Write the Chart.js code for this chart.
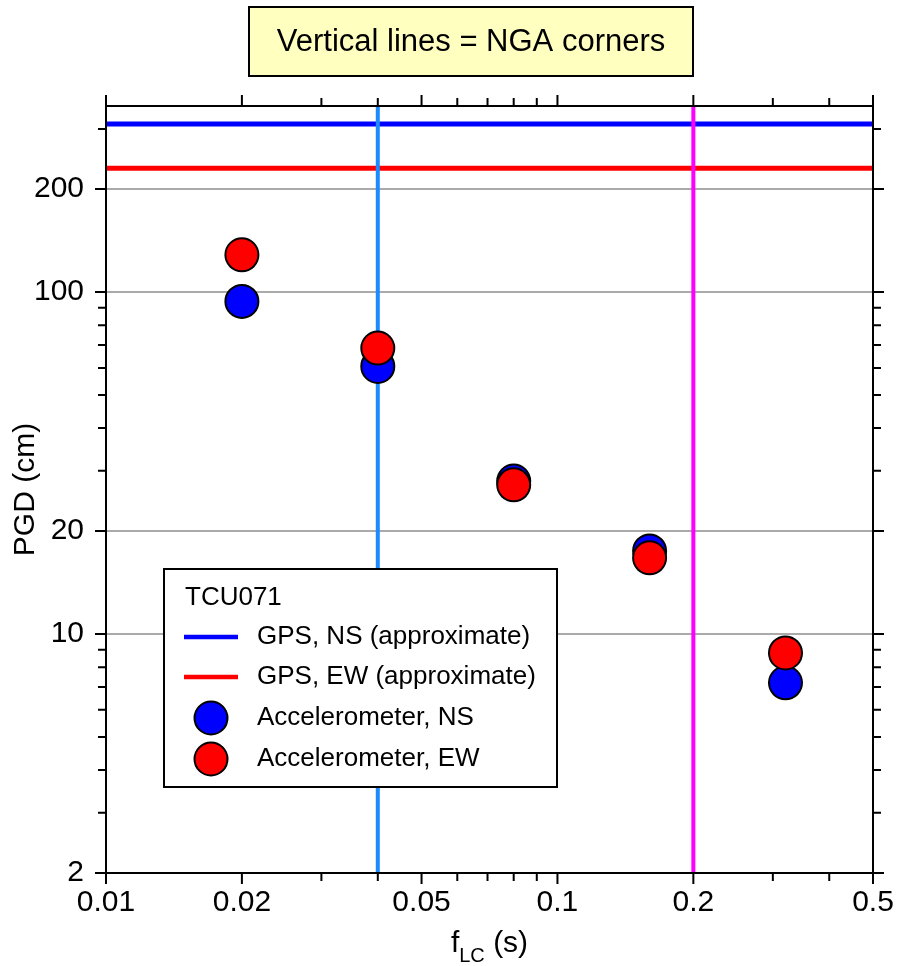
<!DOCTYPE html>
<html>
<head>
<meta charset="utf-8">
<title>TCU071 PGD vs fLC</title>
<script src="https://cdn.jsdelivr.net/npm/chart.js@4.4.1/dist/chart.umd.min.js"></script>
<style>
  html, body { margin: 0; padding: 0; background: #fff; }
  canvas { display: block; }
</style>
</head>
<body>
<canvas id="pgdChart" width="898" height="966"></canvas>
<script>
const FONT = '"Liberation Sans", Arial, Helvetica, sans-serif';

// station + measurements
const stationName = 'TCU071';
const periods = [0.02, 0.04, 0.08, 0.16, 0.32];
const pgdAccNS = [93.9, 60.6, 28.0, 17.5, 7.2];
const pgdAccEW = [128.5, 68.6, 27.3, 16.7, 8.8];
const gpsPgdNS = 310;
const gpsPgdEW = 230;
const ngaCorners = [0.04, 0.2];

// axes
const xLimits = [0.01, 0.5];
const yLimits = [2, 350];
const xMajorTicks = [0.01, 0.02, 0.05, 0.1, 0.2, 0.5];
const xMinorTicks = [0.03, 0.04, 0.06, 0.07, 0.08, 0.09, 0.3, 0.4];
const yMajorTicks = [2, 10, 20, 100, 200];
const yMinorTicks = [3, 4, 5, 6, 7, 8, 9, 30, 40, 50, 60, 70, 80, 90, 300];
const yGridLines = [10, 20, 100, 200];

function toPoints(xs, ys) {
  return xs.map((x, i) => ({ x: x, y: ys[i] }));
}
function hLine(y) {
  return [{ x: xLimits[0], y: y }, { x: xLimits[1], y: y }];
}
function vLine(x) {
  return [{ x: x, y: yLimits[0] }, { x: x, y: yLimits[1] }];
}

// frame, tick marks, legend box, titles
const decorPlugin = {
  id: 'pgdDecor',
  beforeDraw(chart) {
    const ctx = chart.ctx;
    ctx.save();
    ctx.fillStyle = '#fff';
    ctx.fillRect(0, 0, chart.width, chart.height);
    ctx.restore();
  },
  afterDatasetsDraw(chart) {
    const ctx = chart.ctx;
    const { left, right, top, bottom } = chart.chartArea;
    const xs = chart.scales.x, ys = chart.scales.y;
    ctx.save();
    ctx.strokeStyle = '#000';
    ctx.lineWidth = 2;
    ctx.beginPath();
    const xTick = (v, len) => {
      const px = xs.getPixelForValue(v);
      ctx.moveTo(px, bottom); ctx.lineTo(px, bottom + len);
      ctx.moveTo(px, top); ctx.lineTo(px, top - len);
    };
    const yTick = (v, len) => {
      const py = ys.getPixelForValue(v);
      ctx.moveTo(left, py); ctx.lineTo(left - len, py);
      ctx.moveTo(right, py); ctx.lineTo(right + len, py);
    };
    xMajorTicks.forEach(v => xTick(v, 11));
    xMinorTicks.forEach(v => xTick(v, 8));
    yMajorTicks.forEach(v => yTick(v, 11));
    yMinorTicks.forEach(v => yTick(v, 8));
    ctx.stroke();
    ctx.strokeRect(left, top, right - left, bottom - top);
    ctx.restore();
  },
  afterDraw(chart) {
    const ctx = chart.ctx;
    const area = chart.chartArea;
    ctx.save();

    // note box above the plot
    ctx.fillStyle = '#ffffc0';
    ctx.fillRect(249, 7, 444, 69);
    ctx.strokeStyle = '#000';
    ctx.lineWidth = 2;
    ctx.strokeRect(249, 7, 444, 69);
    ctx.fillStyle = '#000';
    ctx.font = '31px ' + FONT;
    ctx.textAlign = 'center';
    ctx.textBaseline = 'middle';
    ctx.fillText('Vertical lines = NGA corners', 471, 42);

    // y title
    ctx.save();
    ctx.translate(26, (area.top + area.bottom) / 2);
    ctx.rotate(-Math.PI / 2);
    ctx.font = '30px ' + FONT;
    ctx.textAlign = 'center';
    ctx.textBaseline = 'middle';
    ctx.fillText('PGD (cm)', 0, 0);
    ctx.restore();

    // x title with subscript
    const base = 952;
    ctx.textAlign = 'left';
    ctx.textBaseline = 'alphabetic';
    ctx.font = '30px ' + FONT;
    const wF = ctx.measureText('f').width;
    const wTail = ctx.measureText(' (s)').width;
    ctx.font = '20px ' + FONT;
    const wSub = ctx.measureText('LC').width;
    let tx = (area.left + area.right) / 2 - (wF + wSub + wTail) / 2;
    ctx.font = '30px ' + FONT;
    ctx.fillText('f', tx, base);
    tx += wF;
    ctx.font = '20px ' + FONT;
    ctx.fillText('LC', tx, base + 10);
    tx += wSub;
    ctx.font = '30px ' + FONT;
    ctx.fillText(' (s)', tx, base);

    // legend
    ctx.fillStyle = '#fff';
    ctx.fillRect(164, 569, 393, 218);
    ctx.strokeStyle = '#000';
    ctx.lineWidth = 2;
    ctx.strokeRect(164, 569, 393, 218);
    ctx.fillStyle = '#000';
    ctx.font = '26px ' + FONT;
    ctx.textBaseline = 'middle';
    ctx.fillText(stationName, 185, 598);
    const rows = [637, 677, 718, 759];
    const entries = chart.data.datasets.filter(d => d.legendKind);
    entries.forEach((d, i) => {
      const y = rows[i];
      if (d.legendKind === 'line') {
        ctx.strokeStyle = d.borderColor;
        ctx.lineWidth = 4.5;
        ctx.beginPath();
        ctx.moveTo(184, y); ctx.lineTo(238, y);
        ctx.stroke();
      } else {
        ctx.beginPath();
        ctx.arc(211, y, d.pointRadius, 0, Math.PI * 2);
        ctx.fillStyle = d.backgroundColor;
        ctx.fill();
        ctx.strokeStyle = d.borderColor;
        ctx.lineWidth = d.borderWidth;
        ctx.stroke();
      }
      ctx.fillStyle = '#000';
      ctx.fillText(d.label, 257, y);
    });
    ctx.restore();
  }
};

const ctx = document.getElementById('pgdChart').getContext('2d');
const chart = new Chart(ctx, {
  type: 'scatter',
  data: {
    datasets: [
      {
        label: 'GPS, NS (approximate)',
        legendKind: 'line',
        data: hLine(gpsPgdNS),
        showLine: true,
        borderColor: '#0000ff',
        borderWidth: 5,
        pointRadius: 0,
        order: 3
      },
      {
        label: 'GPS, EW (approximate)',
        legendKind: 'line',
        data: hLine(gpsPgdEW),
        showLine: true,
        borderColor: '#ff0000',
        borderWidth: 5,
        pointRadius: 0,
        order: 3
      },
      {
        label: 'Accelerometer, NS',
        legendKind: 'point',
        data: toPoints(periods, pgdAccNS),
        backgroundColor: '#0000ff',
        borderColor: '#000',
        borderWidth: 2,
        pointRadius: 16.5,
        order: 1
      },
      {
        label: 'Accelerometer, EW',
        legendKind: 'point',
        data: toPoints(periods, pgdAccEW),
        backgroundColor: '#ff0000',
        borderColor: '#000',
        borderWidth: 2,
        pointRadius: 16.5,
        order: 0
      },
      {
        label: 'NGA corner ' + ngaCorners[0],
        data: vLine(ngaCorners[0]),
        showLine: true,
        borderColor: '#1a8cff',
        borderWidth: 4,
        pointRadius: 0,
        order: 2
      },
      {
        label: 'NGA corner ' + ngaCorners[1],
        data: vLine(ngaCorners[1]),
        showLine: true,
        borderColor: '#ff00ff',
        borderWidth: 4,
        pointRadius: 0,
        order: 2
      }
    ]
  },
  options: {
    responsive: false,
    animation: false,
    devicePixelRatio: 1,
    layout: { padding: { top: 106, right: 25, bottom: 0, left: 0 } },
    plugins: {
      legend: { display: false },
      tooltip: { enabled: false }
    },
    scales: {
      x: {
        type: 'logarithmic',
        min: xLimits[0],
        max: xLimits[1],
        afterBuildTicks: s => { s.ticks = xMajorTicks.map(v => ({ value: v })); },
        afterFit: s => { s.height = 93; s.paddingLeft = 0; s.paddingRight = 0; },
        grid: { display: false, drawTicks: false },
        border: { display: false },
        ticks: {
          autoSkip: false,
          maxRotation: 0,
          padding: 12,
          color: '#000',
          font: { family: FONT, size: 30 },
          callback: v => String(v)
        }
      },
      y: {
        type: 'logarithmic',
        min: yLimits[0],
        max: yLimits[1],
        afterBuildTicks: s => { s.ticks = yMajorTicks.map(v => ({ value: v })); },
        afterFit: s => { s.width = 106; s.paddingTop = 0; s.paddingBottom = 0; },
        grid: {
          drawTicks: false,
          lineWidth: 2,
          color: c => (c.tick && yGridLines.includes(c.tick.value)) ? '#aaaaaa' : 'rgba(0,0,0,0)'
        },
        border: { display: false },
        ticks: {
          autoSkip: false,
          padding: 22,
          color: '#000',
          font: { family: FONT, size: 30 },
          callback: v => String(v)
        }
      }
    }
  },
  plugins: [decorPlugin]
});
</script>
</body>
</html>
